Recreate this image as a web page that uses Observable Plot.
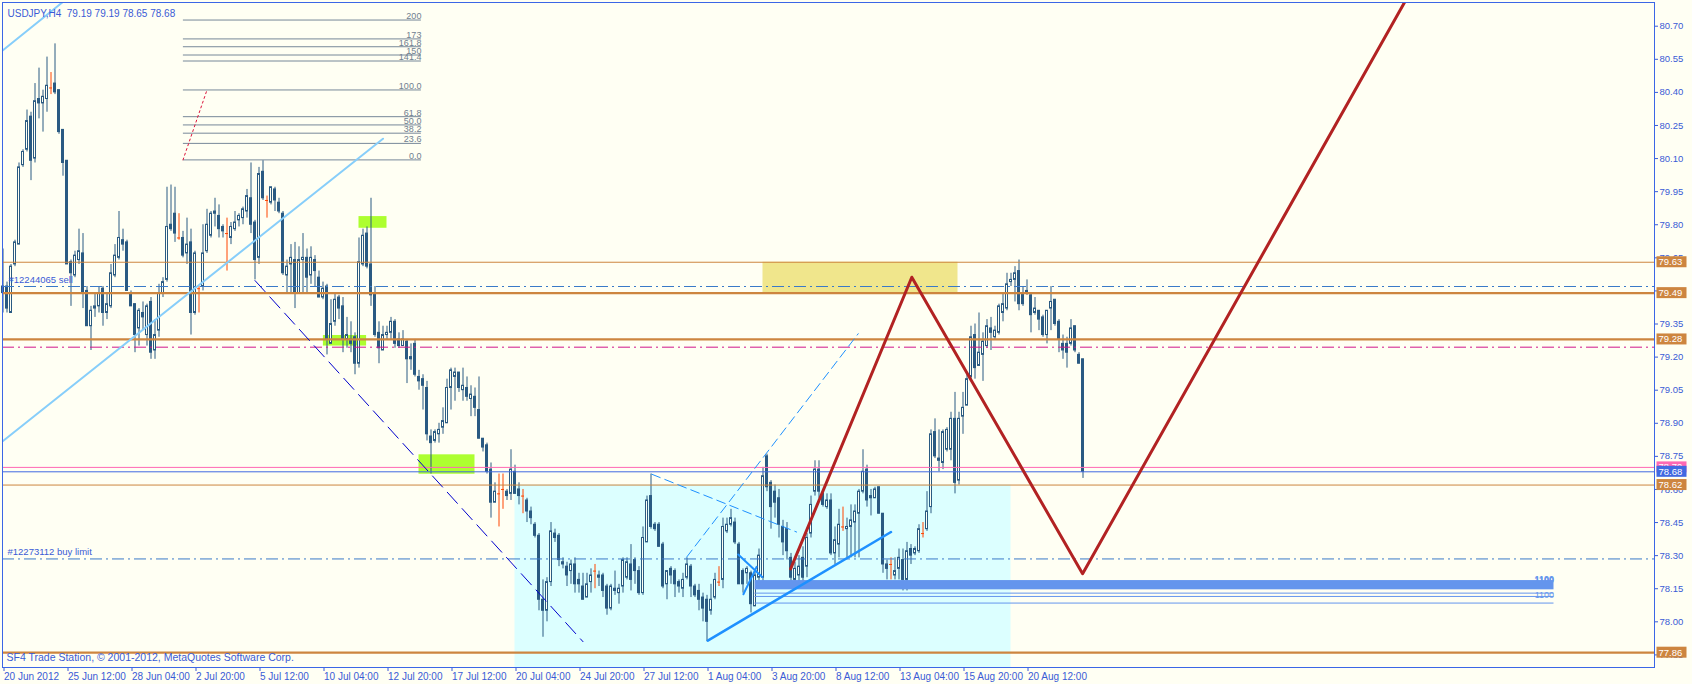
<!DOCTYPE html>
<html><head><meta charset="utf-8">
<script src="https://cdn.jsdelivr.net/npm/d3@7"></script>
<script src="https://cdn.jsdelivr.net/npm/@observablehq/plot@0.6"></script>
<style>
html,body{margin:0;padding:0;background:#FFFFF3;overflow:hidden;}
</style></head><body><div id="chart"></div>
<script>
// ---- DATA ----
const opens = [79.52,79.52,79.40,79.62,79.71,80.07,80.14,80.29,80.10,80.37,80.35,80.37,80.42,80.44,80.41,80.23,80.09,79.63,79.57,79.64,
79.67,79.50,79.34,79.42,79.43,79.51,79.40,79.43,79.57,79.65,79.73,79.72,79.49,79.44,79.33,79.40,79.30,79.45,79.23,79.32,
79.49,79.55,79.80,79.85,79.74,79.74,79.67,79.72,79.40,79.51,79.52,79.68,79.75,79.86,79.84,79.79,79.76,79.74,79.78,79.82,
79.83,79.86,79.92,79.81,79.65,80.04,79.91,79.90,79.96,79.90,79.85,79.57,79.62,79.64,79.49,79.64,79.65,79.57,79.64,79.56,
79.47,79.52,79.26,79.36,79.47,79.43,79.28,79.28,79.29,79.17,79.62,79.76,79.62,79.49,79.31,79.23,79.30,79.31,79.36,79.28,
79.25,79.27,79.20,79.26,79.11,79.10,79.06,78.84,78.82,78.85,78.88,78.90,79.06,79.11,79.13,79.05,79.06,79.01,79.02,78.96,
78.83,78.80,78.69,78.54,78.58,78.60,78.59,78.58,78.68,78.60,78.57,78.55,78.50,78.44,78.39,78.10,78.05,78.18,78.40,78.39,
78.27,78.25,78.23,78.26,78.19,78.16,78.11,78.18,78.23,78.21,78.21,78.16,78.06,78.15,78.13,78.16,78.20,78.26,78.28,78.23,
78.13,78.36,78.57,78.44,78.44,78.35,78.17,78.24,78.23,78.18,78.15,78.20,78.25,78.16,78.14,78.11,78.10,78.05,78.11,78.18,
78.19,78.41,78.44,78.45,78.35,78.23,78.22,78.22,78.07,78.20,78.20,78.75,78.63,78.59,78.56,78.43,78.42,78.29,78.19,78.21,
78.29,78.25,78.40,78.59,78.69,78.58,78.52,78.55,78.31,78.35,78.43,78.42,78.43,78.45,78.49,78.59,78.69,78.56,78.56,78.61,
78.49,78.26,78.26,78.21,78.24,78.28,78.19,78.33,78.31,78.32,78.40,78.42,78.52,78.86,78.74,78.72,78.78,78.78,78.92,78.64,
78.93,78.98,79.11,79.30,79.16,79.21,79.25,79.33,79.29,79.31,79.40,79.42,79.54,79.55,79.59,79.49,79.50,79.48,79.40,79.41,
79.38,79.30,79.42,79.46,79.36,79.26,79.26,79.26,79.34,79.21,79.19];
const highs = [79.69,79.54,79.62,79.73,80.08,80.14,80.32,80.31,80.44,80.51,80.41,80.56,80.49,80.62,80.41,80.23,80.09,79.64,79.68,79.78,
79.76,79.52,79.43,79.49,79.52,79.52,79.49,79.62,79.71,79.86,79.78,79.73,79.50,79.44,79.42,79.45,79.44,79.47,79.37,79.53,
79.56,79.97,79.98,79.97,79.85,79.77,79.83,79.78,79.68,79.52,79.80,79.87,79.86,79.92,79.89,79.80,79.83,79.81,79.86,79.85,
79.88,79.96,80.08,79.82,80.06,80.09,79.93,79.97,79.97,79.92,79.86,79.64,79.71,79.72,79.70,79.76,79.69,79.70,79.66,79.59,
79.54,79.53,79.46,79.49,79.48,79.47,79.38,79.36,79.31,79.74,79.78,79.79,79.92,79.52,79.36,79.34,79.34,79.38,79.37,79.31,
79.32,79.28,79.26,79.28,79.14,79.12,79.09,78.87,78.87,78.90,78.97,79.10,79.15,79.15,79.13,79.15,79.11,79.07,79.06,79.11,
78.83,78.81,78.72,78.63,78.67,78.67,78.60,78.78,78.71,78.63,78.60,78.56,78.52,78.45,78.40,78.19,78.20,78.45,78.42,78.40,
78.29,78.27,78.28,78.29,78.22,78.22,78.22,78.24,78.26,78.23,78.22,78.17,78.17,78.23,78.17,78.29,78.29,78.35,78.29,78.25,
78.43,78.57,78.67,78.45,78.45,78.36,78.23,78.25,78.24,78.19,78.22,78.29,78.26,78.17,78.17,78.13,78.12,78.17,78.22,78.25,
78.47,78.47,78.51,78.47,78.36,78.24,78.25,78.23,78.23,78.33,78.70,78.76,78.64,78.62,78.60,78.46,78.45,78.31,78.27,78.30,
78.34,78.40,78.57,78.73,78.73,78.60,78.58,78.58,78.43,78.51,78.52,78.47,78.53,78.53,78.60,78.78,78.71,78.60,78.61,78.61,
78.49,78.28,78.29,78.29,78.33,78.33,78.36,78.35,78.34,78.44,78.45,78.59,78.87,78.92,78.87,78.87,78.88,78.95,79.04,78.95,
79.04,79.12,79.34,79.35,79.40,79.31,79.37,79.38,79.34,79.44,79.49,79.58,79.58,79.61,79.64,79.52,79.55,79.49,79.47,79.41,
79.39,79.41,79.52,79.46,79.37,79.30,79.29,79.37,79.34,79.22,79.19];
const lows = [79.40,79.40,79.40,79.61,79.71,80.06,80.13,80.00,80.08,80.28,80.22,80.31,80.39,80.39,80.21,80.02,79.62,79.43,79.56,79.62,
79.42,79.34,79.23,79.38,79.40,79.34,79.37,79.42,79.56,79.64,79.68,79.50,79.43,79.22,79.25,79.32,79.25,79.19,79.19,79.29,
79.47,79.54,79.77,79.72,79.73,79.65,79.62,79.30,79.39,79.40,79.50,79.67,79.74,79.79,79.74,79.74,79.59,79.71,79.77,79.79,
79.80,79.83,79.76,79.55,79.62,79.91,79.83,79.89,79.86,79.85,79.57,79.49,79.49,79.42,79.49,79.49,79.49,79.53,79.52,79.47,
79.46,79.21,79.26,79.34,79.37,79.22,79.24,79.22,79.12,79.15,79.61,79.60,79.43,79.29,79.17,79.23,79.28,79.28,79.24,79.24,
79.25,79.08,79.14,79.11,79.05,78.96,78.82,78.67,78.81,78.81,78.85,78.90,78.96,79.00,79.04,79.00,79.00,78.93,78.93,78.83,
78.77,78.67,78.47,78.54,78.43,78.51,78.55,78.55,78.58,78.53,78.49,78.45,78.44,78.38,78.05,77.93,78.00,78.16,78.36,78.25,
78.24,78.16,78.17,78.13,78.13,78.10,78.11,78.13,78.15,78.16,78.11,78.03,78.05,78.12,78.08,78.13,78.19,78.14,78.17,78.12,
78.12,78.36,78.42,78.41,78.34,78.15,78.10,78.17,78.11,78.13,78.11,78.19,78.11,78.11,78.05,78.00,77.91,78.03,78.10,78.16,
78.15,78.40,78.43,78.35,78.17,78.13,78.17,78.04,78.07,78.18,78.18,78.59,78.42,78.47,78.38,78.30,78.28,78.18,78.15,78.18,
78.17,78.20,78.38,78.57,78.56,78.52,78.51,78.30,78.26,78.29,78.41,78.29,78.29,78.29,78.29,78.58,78.52,78.48,78.56,78.49,
78.22,78.19,78.19,78.19,78.19,78.14,78.14,78.26,78.30,78.31,78.38,78.41,78.49,78.74,78.68,78.69,78.77,78.73,78.58,78.62,
78.85,78.98,79.09,79.10,79.16,79.09,79.24,79.23,79.28,79.30,79.36,79.41,79.52,79.45,79.41,79.43,79.48,79.31,79.39,79.32,
79.29,79.26,79.32,79.34,79.22,79.19,79.15,79.25,79.22,79.17,78.65];
const closes = [79.49,79.42,79.61,79.72,80.06,80.13,80.27,80.09,80.36,80.35,80.38,80.43,80.42,80.40,80.22,80.08,79.62,79.58,79.66,79.68,
79.49,79.34,79.41,79.43,79.49,79.40,79.44,79.58,79.66,79.74,79.71,79.50,79.43,79.30,79.41,79.38,79.43,79.22,79.30,79.49,
79.54,79.79,79.78,79.76,79.74,79.66,79.71,79.40,79.67,79.51,79.67,79.80,79.85,79.85,79.78,79.77,79.76,79.79,79.81,79.84,
79.87,79.93,79.80,79.64,80.03,79.92,79.91,79.97,79.91,79.86,79.58,79.61,79.65,79.49,79.64,79.65,79.56,79.65,79.59,79.47,
79.51,79.28,79.35,79.46,79.42,79.28,79.30,79.26,79.17,79.63,79.75,79.61,79.48,79.30,79.24,79.30,79.31,79.36,79.26,79.25,
79.28,79.19,79.19,79.12,79.09,79.07,78.85,78.81,78.86,78.87,78.91,79.06,79.14,79.13,79.06,79.07,79.02,79.03,78.97,78.83,
78.79,78.68,78.54,78.59,78.58,78.60,78.57,78.69,78.58,78.57,78.57,78.50,78.47,78.39,78.10,78.05,78.18,78.41,78.38,78.28,
78.26,78.21,78.26,78.17,78.17,78.10,78.17,78.21,78.23,78.20,78.14,78.06,78.16,78.14,78.15,78.28,78.27,78.19,78.23,78.13,
78.38,78.55,78.43,78.42,78.34,78.16,78.23,78.21,78.17,78.16,78.19,78.26,78.16,78.12,78.10,78.06,78.00,78.10,78.19,78.18,
78.43,78.44,78.47,78.36,78.17,78.17,78.24,78.08,78.21,78.30,78.66,78.61,78.52,78.54,78.44,78.36,78.32,78.20,78.24,78.25,
78.20,78.38,78.53,78.69,78.59,78.53,78.55,78.31,78.37,78.44,78.43,78.43,78.46,78.50,78.59,78.68,78.55,78.57,78.60,78.49,
78.26,78.24,78.26,78.23,78.29,78.19,78.32,78.30,78.33,78.42,78.40,78.50,78.85,78.75,78.73,78.86,78.87,78.92,78.63,78.92,
78.97,79.10,79.29,79.15,79.22,79.27,79.34,79.31,79.32,79.43,79.44,79.53,79.55,79.58,79.44,79.44,79.49,79.39,79.42,79.37,
79.30,79.41,79.45,79.35,79.28,79.23,79.22,79.33,79.23,79.17,78.68];

const timeTicks = [0,16,32,48,64,80,96,112,128,144,160,176,192,208,224,240,256];
const timeLabels = ["20 Jun 2012","25 Jun 12:00","28 Jun 04:00","2 Jul 20:00","5 Jul 12:00","10 Jul 04:00","12 Jul 20:00","17 Jul 12:00","20 Jul 04:00","24 Jul 20:00","27 Jul 12:00","1 Aug 04:00","3 Aug 20:00","8 Aug 12:00","13 Aug 04:00","15 Aug 20:00","20 Aug 12:00"];
const priceTicks = [77.85,78.00,78.15,78.30,78.45,78.60,78.75,78.90,79.05,79.20,79.35,79.50,79.65,79.80,79.95,80.10,80.25,80.40,80.55,80.70];

const levelsThin = [79.63, 78.62];
const levelsThick = [79.49, 79.28, 77.86];
const sellOrder = 79.52, buyLimit = 78.285, magentaLevel = 79.245;
const pinkLevel = 78.70, bidLevel = 78.68;
const orangeBoxes = [79.63, 79.49, 79.28, 78.62, 77.86];

const fibLow = 80.094, fibHigh = 80.411, fibStart = 45.1, fibEnd = 104.6;
const fibLevels = [0, 23.6, 38.2, 50, 61.8, 100, 141.4, 150, 161.8, 173, 200];
const fibLabels = ["0.0","23.6","38.2","50.0","61.8","100.0","141.4","150","161.8","173","200"];
const fibTrend = [{i:45, p:80.094},{i:51, p:80.411}];

const skyA = [{i:-1, p:80.577},{i:16, p:80.825}];
const skyB = [{i:0, p:78.82},{i:95, p:80.19}];
const navyDash = [{i:63, p:79.547},{i:145, p:77.91}];
const blueThick = [{i:176.2, p:77.915},{i:222, p:78.407}];
const blueDash1 = [{i:170.9, p:78.293},{i:213.8, p:79.306}];
const blueDash2 = [{i:162.2, p:78.669},{i:198.4, p:78.407}];
const blueT1 = [{i:183.8, p:78.305},{i:189.8, p:78.203}];
const blueT2 = [{i:185.1, p:78.125},{i:188.4, p:78.249}];
const zigzag = [{i:196.9, p:78.24},{i:227.2, p:79.562},{i:269.9, p:78.218},{i:352, p:80.86}];

const cyanBox = [{i1:128, i2:252, p1:77.70, p2:78.62}];
const khakiBox = [{i1:190, i2:238.75, p1:79.49, p2:79.63}];
const greenBoxes = [{i1:89, i2:96, p1:79.784, p2:79.837},{i1:80.1, i2:90.9, p1:79.25, p2:79.298},{i1:104, i2:118, p1:78.669, p2:78.757}];
const lotBand = [{i1:188, i2:387.75, p1:78.145, p2:78.187}];
const lotLines = [78.13, 78.115, 78.085];
const lotStart = 188, lotEnd = 387.75, lotText = "1100";

const header = "USDJPY,H4  79.19 79.19 78.65 78.68";
const copyright = "SF4 Trade Station, \u00A9 2001-2012, MetaQuotes Software Corp.";
const sellLabel = "#12244065 sell", buyLabel = "#12273112 buy limit";

// ---- STYLE ----
const BG = "#FFFFF3", DARK = "#2a5a82", DOJI = "#ff4500", AXIS = "#3b66e6", TXT = "#3a5bd6";
const ORANGE = "#cd853f";
const FONT = "Liberation Sans, Arial, sans-serif";

const candles = opens.map((o, i) => ({i, o, h: highs[i], l: lows[i], c: closes[i]}));
const bodies = candles.filter(d => d.o !== d.c);
const dojis = candles.filter(d => d.o === d.c);
const fib = fibLevels.map((lv, k) => ({p: fibLow + (fibHigh - fibLow) * lv / 100, label: fibLabels[k]}));

const line = (data, opts) => Plot.line(data, {x: "i", y: "p", clip: true, ...opts});

const chart = Plot.plot({
  width: 1692, height: 684,
  marginLeft: 2, marginRight: 38, marginTop: 2, marginBottom: 17,
  style: {background: BG, fontFamily: FONT, fontSize: "9px"},
  x: {domain: [-0.125, 412.875], axis: null},
  y: {domain: [77.7929, 80.8075], axis: null},
  marks: [
    Plot.rect(cyanBox, {x1: "i1", x2: "i2", y1: "p1", y2: "p2", fill: "#dcffff", clip: true}),
    Plot.rect(khakiBox, {x1: "i1", x2: "i2", y1: "p1", y2: "p2", fill: "#f0e68c"}),
    Plot.rect(greenBoxes, {x1: "i1", x2: "i2", y1: "p1", y2: "p2", fill: "#adff2f"}),
    // fib
    Plot.ruleY(fib, {y: "p", x1: fibStart, x2: fibEnd, stroke: "#778899", strokeWidth: 1}),
    Plot.text(fib, {y: "p", x: fibEnd, text: "label", textAnchor: "end", lineAnchor: "bottom", dy: -1, fill: "#708090", fontSize: 9}),
    line(fibTrend, {stroke: "#dc143c", strokeWidth: 1, strokeDasharray: "2,3"}),
    // candles
    Plot.ruleX(candles, {x: "i", y1: "l", y2: "h", stroke: d => d.o === d.c ? DOJI : DARK, strokeWidth: 1}),
    Plot.rect(bodies, {x1: d => d.i - 0.25, x2: d => d.i + 0.25, y1: d => Math.min(d.o, d.c), y2: d => Math.max(d.o, d.c),
      fill: d => d.c > d.o ? BG : DARK, stroke: DARK, strokeWidth: 1}),
    Plot.ruleY(dojis, {y: "o", x1: d => d.i - 0.375, x2: d => d.i + 0.375, stroke: DOJI, strokeWidth: 1}),
    // horizontal levels
    Plot.ruleY(levelsThin, {stroke: ORANGE, strokeWidth: 1}),
    Plot.ruleY(levelsThick, {stroke: ORANGE, strokeWidth: 2.2}),
    Plot.ruleY([sellOrder, buyLimit], {stroke: "#3a7ac8", strokeWidth: 1, strokeDasharray: "12,4,2,4"}),
    Plot.ruleY([magentaLevel], {stroke: "#d0168c", strokeWidth: 1, strokeDasharray: "12,4,2,4"}),
    Plot.ruleY([pinkLevel], {stroke: "#ff69b4", strokeWidth: 1}),
    Plot.ruleY([bidLevel], {stroke: "#4169e1", strokeWidth: 1}),
    Plot.text([sellOrder], {y: d => d, frameAnchor: "left", text: [sellLabel], dx: 6, dy: -7, textAnchor: "start", fill: TXT, fontSize: 9.5}),
    Plot.text([buyLimit], {y: d => d, frameAnchor: "left", text: [buyLabel], dx: 5, dy: -7, textAnchor: "start", fill: TXT, fontSize: 9.5}),
    // trend lines
    line(skyA, {stroke: "#87cefa", strokeWidth: 2}),
    line(skyB, {stroke: "#87cefa", strokeWidth: 2}),
    line(navyDash, {stroke: "#0000cd", strokeWidth: 1, strokeDasharray: "15,7"}),
    line(blueDash1, {stroke: "#1e90ff", strokeWidth: 1, strokeDasharray: "9,5"}),
    line(blueDash2, {stroke: "#1e90ff", strokeWidth: 1, strokeDasharray: "9,5"}),
    line(blueT1, {stroke: "#1e90ff", strokeWidth: 2}),
    line(blueT2, {stroke: "#1e90ff", strokeWidth: 2}),
    // lots band
    Plot.rect(lotBand, {x1: "i1", x2: "i2", y1: "p1", y2: "p2", fill: "#6495ed"}),
    Plot.ruleY(lotLines, {x1: lotStart, x2: lotEnd, stroke: "#6495ed", strokeWidth: 1}),
    Plot.text([lotText, lotText], {x: lotEnd, y: [78.19, 78.194], text: d => d, textAnchor: "end", fill: "#6495ed", fontSize: 9, fontWeight: "bold"}),
    Plot.text([lotText], {x: lotEnd, y: 78.121, text: d => d, textAnchor: "end", fill: "#6495ed", fontSize: 9}),
    line(blueThick, {stroke: "#1e90ff", strokeWidth: 2.5}),
    line(zigzag, {stroke: "#b22222", strokeWidth: 3}),
    // texts
    Plot.text([header], {frameAnchor: "top-left", text: d => d, dx: 5, dy: 7, fill: TXT, fontSize: 10}),
    Plot.text([copyright], {frameAnchor: "bottom-left", text: d => d, dx: 4, dy: -7, fill: TXT, fontSize: 10.5}),
    // axes
    Plot.axisX({ticks: timeTicks, tickFormat: d => timeLabels[timeTicks.indexOf(d)], anchor: "bottom", tickSize: 4, tickPadding: 1,
      textAnchor: "start", dx: 1, color: TXT, fontSize: 10, label: null}),
    Plot.axisY({ticks: priceTicks, tickFormat: d => d.toFixed(2), anchor: "right", tickSize: 3, tickPadding: 2,
      textAnchor: "start", color: TXT, fontSize: 9.5, label: null}),
    Plot.frame({stroke: AXIS})
  ]
});
document.getElementById("chart").appendChild(chart);

// price boxes on the right axis
const ys = chart.scale("y");
const svg = d3.select(chart);
const boxX = 1656.5, boxW = 30, boxH = 11;
function box(p, color) {
  const y = ys.apply(p);
  svg.append("rect").attr("x", boxX).attr("y", y - boxH / 2).attr("width", boxW).attr("height", boxH).attr("fill", color);
  svg.append("text").attr("x", boxX + 2).attr("y", y + 3.4).attr("fill", "#ffffff")
    .attr("text-anchor", "start").attr("font-family", FONT).attr("font-size", 9.5).text(p.toFixed(2));
}
box(pinkLevel, "#ff69b4");
box(bidLevel, "#4169e1");
orangeBoxes.forEach(p => box(p, ORANGE));
</script></body></html>
